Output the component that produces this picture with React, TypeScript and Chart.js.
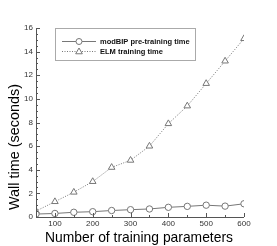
import React, { useEffect, useRef } from "react";
import { Chart, registerables } from "chart.js";

Chart.register(...registerables);

const params = [50, 100, 150, 200, 250, 300, 350, 400, 450, 500, 550, 600];
const modBIP = [0.25, 0.3, 0.4, 0.45, 0.55, 0.62, 0.68, 0.82, 0.9, 1.0, 0.92, 1.12];
const elm = [0.5, 1.3, 2.1, 3.0, 4.2, 4.8, 6.0, 7.9, 9.4, 11.3, 13.2, 15.1];
const xMajor = [100, 200, 300, 400, 500, 600];
const yMajor = [0, 2, 4, 6, 8, 10, 12, 14, 16];
const seriesNames = ["modBIP pre-training time", "ELM training time"];
const xTitle = "Number of training parameters";
const yTitle = "Wall time (seconds)";

const FONT = "'Liberation Sans', Arial, sans-serif";
const GRAY = "#777";

function drawTriangle(ctx: CanvasRenderingContext2D, x: number, y: number, r: number) {
  ctx.beginPath();
  ctx.moveTo(x, y - r);
  ctx.lineTo(x + r * 0.95, y + r * 0.65);
  ctx.lineTo(x - r * 0.95, y + r * 0.65);
  ctx.closePath();
  ctx.fillStyle = "#fff";
  ctx.fill();
  ctx.stroke();
}
function drawCircle(ctx: CanvasRenderingContext2D, x: number, y: number, r: number) {
  ctx.beginPath();
  ctx.arc(x, y, r, 0, Math.PI * 2);
  ctx.fillStyle = "#fff";
  ctx.fill();
  ctx.stroke();
}

function fitSize(ctx: CanvasRenderingContext2D, text: string, width: number) {
  ctx.font = `15px ${FONT}`;
  const w = ctx.measureText(text).width;
  return (15 * width) / w;
}

const decor = {
  id: "decor",
  afterDraw(chart: any) {
    const ctx = chart.ctx as CanvasRenderingContext2D;
    const xs = chart.scales.x;
    const ys = chart.scales.y;
    const a = chart.chartArea;
    ctx.save();
    ctx.strokeStyle = "#555";
    ctx.lineWidth = 1;
    ctx.beginPath();
    ctx.moveTo(a.left + 0.5, a.top);
    ctx.lineTo(a.left + 0.5, a.bottom + 0.5);
    ctx.lineTo(a.right, a.bottom + 0.5);
    ctx.stroke();
    ctx.fillStyle = "#333";
    ctx.font = `8px ${FONT}`;
    for (let v = 0; v <= 16.001; v += 0.5) {
      const py = Math.round(ys.getPixelForValue(v)) + 0.5;
      const major = yMajor.includes(v);
      ctx.beginPath();
      ctx.moveTo(a.left, py);
      ctx.lineTo(a.left + (major ? 4 : 2), py);
      ctx.stroke();
    }
    ctx.textAlign = "right";
    ctx.textBaseline = "middle";
    yMajor.forEach((v) => ctx.fillText(String(v), a.left - 3, ys.getPixelForValue(v)));
    for (let v = 50; v <= 600; v += 50) {
      const px = Math.round(xs.getPixelForValue(v)) + 0.5;
      const major = xMajor.includes(v);
      ctx.beginPath();
      ctx.moveTo(px, a.bottom);
      ctx.lineTo(px, a.bottom - (major ? 4 : 2));
      ctx.stroke();
    }
    ctx.textAlign = "center";
    ctx.textBaseline = "top";
    xMajor.forEach((v) => ctx.fillText(String(v), xs.getPixelForValue(v), a.bottom + 3));
    // titles
    ctx.fillStyle = "#000";
    ctx.textAlign = "center";
    ctx.textBaseline = "middle";
    const size = fitSize(ctx, xTitle, 188);
    ctx.font = `${size.toFixed(2)}px ${FONT}`;
    ctx.fillText(xTitle, 139, a.bottom + 21);
    ctx.save();
    ctx.translate(15, 147);
    ctx.rotate(-Math.PI / 2);
    ctx.font = `${(size * 1.04).toFixed(2)}px ${FONT}`;
    ctx.fillText(yTitle, 0, 0);
    ctx.restore();
    // legend
    const lx = 55, ly = 28, lw = 140, lh = 32;
    ctx.fillStyle = "#fff";
    ctx.fillRect(lx, ly, lw, lh);
    ctx.strokeStyle = "#aaa";
    ctx.strokeRect(lx + 0.5, ly + 0.5, lw, lh);
    ctx.strokeStyle = GRAY;
    const rows = [ly + 13, ly + 23];
    rows.forEach((ry, i) => {
      ctx.beginPath();
      ctx.setLineDash(i === 0 ? [] : [1, 1.5]);
      ctx.moveTo(62, ry + 0.5);
      ctx.lineTo(96, ry + 0.5);
      ctx.stroke();
      ctx.setLineDash([]);
      if (i === 0) drawCircle(ctx, 79, ry + 0.5, 3);
      else drawTriangle(ctx, 79, ry + 0.5, 3.5);
      ctx.fillStyle = "#111";
      ctx.font = `bold 7.5px ${FONT}`;
      ctx.textAlign = "left";
      ctx.textBaseline = "middle";
      ctx.fillText(seriesNames[i], 100, ry + 0.5);
    });
    ctx.restore();
  },
};

export default function App() {
  const ref = useRef<HTMLCanvasElement>(null);
  useEffect(() => {
    if (!ref.current) return;
    const chart = new Chart(ref.current, {
      type: "line",
      data: {
        labels: params,
        datasets: [
          {
            label: seriesNames[0],
            data: params.map((p, i) => ({ x: p, y: modBIP[i] })),
            borderColor: GRAY,
            borderWidth: 1,
            pointStyle: "circle",
            pointRadius: 3.2,
            pointBorderColor: GRAY,
            pointBackgroundColor: "#fff",
            pointBorderWidth: 1,
            tension: 0,
          },
          {
            label: seriesNames[1],
            data: params.map((p, i) => ({ x: p, y: elm[i] })),
            borderColor: GRAY,
            borderWidth: 1,
            borderDash: [1, 1.5],
            pointStyle: "triangle",
            pointRadius: 3.8,
            pointBorderColor: GRAY,
            pointBackgroundColor: "#fff",
            pointBorderWidth: 1,
            tension: 0,
          },
        ],
      },
      options: {
        animation: false,
        responsive: false,
        maintainAspectRatio: false,
        layout: { padding: { left: 36, right: 33, top: 28, bottom: 29 } },
        plugins: { legend: { display: false }, tooltip: { enabled: false } },
        scales: {
          x: {
            type: "linear",
            min: 50,
            max: 600,
            grid: { display: false },
            border: { display: false },
            ticks: { display: false },
            afterFit: (s: any) => { s.height = 0; },
          },
          y: {
            min: 0,
            max: 16,
            grid: { display: false },
            border: { display: false },
            ticks: { display: false },
            afterFit: (s: any) => { s.width = 0; },
          },
        },
      },
      plugins: [decor],
    });
    return () => chart.destroy();
  }, []);
  return (
    <div style={{ position: "fixed", left: 0, top: 0, width: 277, height: 246, background: "#fff" }}>
      <canvas ref={ref} width={277} height={246} style={{ display: "block" }} />
    </div>
  );
}
